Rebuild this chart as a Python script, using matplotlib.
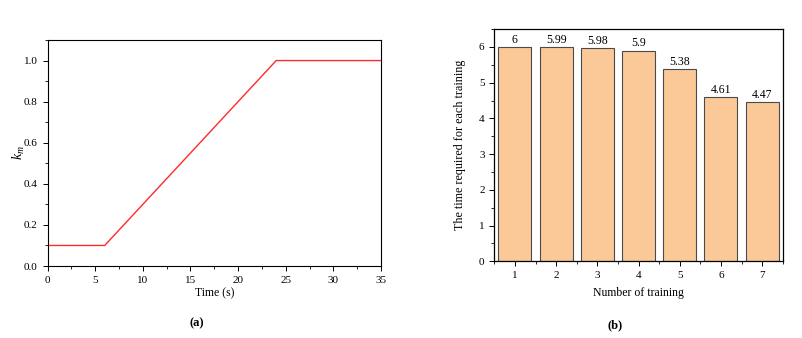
import matplotlib
matplotlib.use("Agg")
import matplotlib.pyplot as plt
from matplotlib.ticker import MultipleLocator

plt.rcParams["font.family"] = ["Liberation Serif", "DejaVu Serif"]
plt.rcParams["mathtext.fontset"] = "custom"
plt.rcParams["mathtext.rm"] = "Liberation Serif"
plt.rcParams["mathtext.it"] = "Liberation Serif:italic"

# (a) k_m schedule
time_s = [0, 6, 24, 35]
k_m = [0.1, 0.1, 1.0, 1.0]

# (b) time per training
trainings = [1, 2, 3, 4, 5, 6, 7]
train_time = [6, 5.99, 5.98, 5.9, 5.38, 4.61, 4.47]
bar_labels = ["6", "5.99", "5.98", "5.9", "5.38", "4.61", "4.47"]

fig = plt.figure(figsize=(8.03, 3.38), dpi=100)

tick_kw = dict(direction="out", labelsize=8, width=0.7, length=3.5)

# === panel (a) ===
ax1 = fig.add_axes([0.0592, 0.213, 0.4153, 0.6686])
ax1.plot(time_s, k_m, color="#ff2a2a", lw=1.0)
ax1.set_xlim(0, 35)
ax1.set_ylim(0, 1.1)
ax1.xaxis.set_major_locator(MultipleLocator(5))
ax1.xaxis.set_minor_locator(MultipleLocator(2.5))
ax1.yaxis.set_major_locator(MultipleLocator(0.2))
ax1.yaxis.set_minor_locator(MultipleLocator(0.1))
ax1.yaxis.set_major_formatter(lambda v, p: f"{v:.1f}")
ax1.tick_params(which="major", **tick_kw)
ax1.tick_params(which="minor", direction="out", width=0.6, length=2)
ax1.tick_params(top=False, right=False, which="both")
ax1.set_xlabel("Time (s)", fontsize=8.5)
ax1.xaxis.set_label_coords(0.5, -0.095)
ax1.set_ylabel("$k_m$", fontsize=10)
ax1.yaxis.set_label_coords(-0.061, 0.5)
for s in ax1.spines.values():
    s.set_linewidth(0.8)
fig.text(0.245, 0.035, "(a)", fontsize=9, fontweight="bold", ha="center")

# === panel (b) ===
ax2 = fig.add_axes([0.6156, 0.227, 0.3592, 0.687])
bars = ax2.bar(trainings, train_time, width=0.8, color="#fbc898",
               edgecolor="#4a4a4a", linewidth=0.8)
for b, lab in zip(bars, bar_labels):
    ax2.text(b.get_x() + b.get_width() / 2, b.get_height() + 0.03, lab,
             ha="center", va="bottom", fontsize=8.5)
ax2.set_xlim(0.5, 7.5)
ax2.set_ylim(0, 6.5)
ax2.xaxis.set_major_locator(MultipleLocator(1))
ax2.xaxis.set_minor_locator(MultipleLocator(0.5))
ax2.yaxis.set_major_locator(MultipleLocator(1))
ax2.yaxis.set_minor_locator(MultipleLocator(0.5))
ax2.tick_params(which="major", **tick_kw)
ax2.tick_params(which="minor", direction="out", width=0.6, length=2)
ax2.tick_params(top=False, right=False, which="both")
ax2.set_xlabel("Number of training", fontsize=8.5)
ax2.xaxis.set_label_coords(0.5, -0.11)
ax2.set_ylabel("The time required for each training", fontsize=8.7)
ax2.yaxis.set_label_coords(-0.098, 0.5)
for s in ax2.spines.values():
    s.set_linewidth(0.9)
fig.text(0.766, 0.03, "(b)", fontsize=9, fontweight="bold", ha="center")

fig.savefig("out.png", dpi=100)
